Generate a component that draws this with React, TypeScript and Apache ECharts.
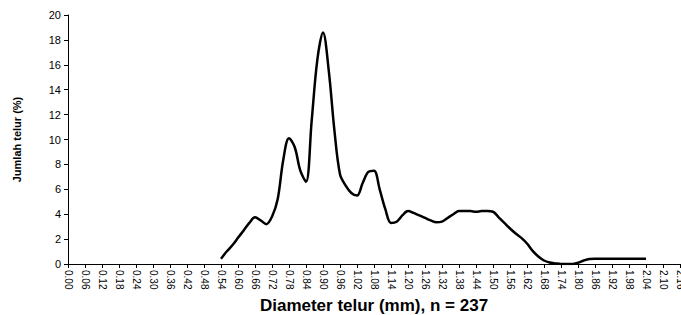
import React, { useEffect, useRef } from "react";
import * as echarts from "echarts";

// Categories: egg diameter (mm) every 0.02 from 0.00 to 2.16
const diameters: string[] = [];
for (let i = 0; i <= 108; i++) diameters.push((i * 0.02).toFixed(2));

// Percentage of eggs (%) from 0.54 to 2.04, step 0.02
const startDiameter = "0.54";
const eggPercent: number[] = [
  0.42, 1.0, 1.5, 2.1, 2.7, 3.3, 3.75, 3.5, 3.2, 3.8,
  5.2, 8.4, 10.1, 9.4, 7.5, 6.6, 11.5, 16.4, 18.6, 15.6,
  10.8, 7.2, 6.3, 5.7, 5.5, 6.5, 7.4, 7.5, 6.0, 4.4,
  3.3, 3.4, 3.9, 4.25, 4.1, 3.9, 3.7, 3.5, 3.35, 3.4,
  3.7, 4.0, 4.25, 4.25, 4.25, 4.2, 4.25, 4.25, 4.2, 3.75,
  3.3, 2.85, 2.45, 2.1, 1.65, 1.05, 0.6, 0.28, 0.12, 0.05,
  0.0, 0.0, 0.0, 0.1, 0.28, 0.4, 0.42, 0.42, 0.42, 0.42,
  0.42, 0.42, 0.42, 0.42, 0.42, 0.42,
];

const yTicks = { min: 0, max: 20, interval: 2 };
const xTitle = "Diameter telur (mm), n = 237";
const yTitle = "Jumlah telur (%)";

export default function App() {
  const ref = useRef<HTMLDivElement>(null);
  useEffect(() => {
    if (!ref.current) return;
    const chart = echarts.init(ref.current, null, { renderer: "svg" });
    const startIdx = diameters.indexOf(startDiameter);
    const seriesData: (number | null)[] = diameters.map((_, i) => {
      const k = i - startIdx;
      return k >= 0 && k < eggPercent.length ? eggPercent[k] : null;
    });
    const font = "'Liberation Sans', Arial, sans-serif";
    chart.setOption({
      animation: false,
      backgroundColor: "#ffffff",
      grid: {
        left: 68,
        right: 1,
        top: 15,
        bottom: 51,
        containLabel: false,
        outerBoundsMode: "none",
      },
      xAxis: {
        type: "category",
        data: diameters,
        boundaryGap: false,
        name: xTitle,
        nameLocation: "middle",
        nameGap: 30,
        nameTextStyle: { fontFamily: font, fontWeight: "bold", fontSize: 17, color: "#000" },
        axisLine: { lineStyle: { color: "#000", width: 1 } },
        axisTick: { interval: 2, length: 4, lineStyle: { color: "#000" } },
        axisLabel: {
          interval: 2,
          rotate: -90,
          fontFamily: font,
          fontSize: 10,
          color: "#000",
          margin: 6,
        },
        splitLine: { show: false },
      },
      yAxis: {
        type: "value",
        min: yTicks.min,
        max: yTicks.max,
        interval: yTicks.interval,
        name: yTitle,
        nameLocation: "middle",
        nameRotate: 90,
        nameGap: 46,
        nameTextStyle: { fontFamily: font, fontWeight: "bold", fontSize: 11, color: "#000" },
        axisLine: { show: true, lineStyle: { color: "#000", width: 1 } },
        axisTick: { show: true, length: 4, lineStyle: { color: "#000" } },
        axisLabel: { fontFamily: font, fontSize: 11, color: "#000", margin: 7 },
        splitLine: { show: false },
      },
      series: [
        {
          type: "line",
          data: seriesData,
          smooth: 0.35,
          showSymbol: false,
          symbol: "none",
          lineStyle: { color: "#000", width: 2.5 },
          connectNulls: false,
        },
      ],
    });
    return () => chart.dispose();
  }, []);
  return (
    <div
      ref={ref}
      style={{ position: "fixed", left: 0, top: 0, width: 681, height: 315 }}
    />
  );
}
